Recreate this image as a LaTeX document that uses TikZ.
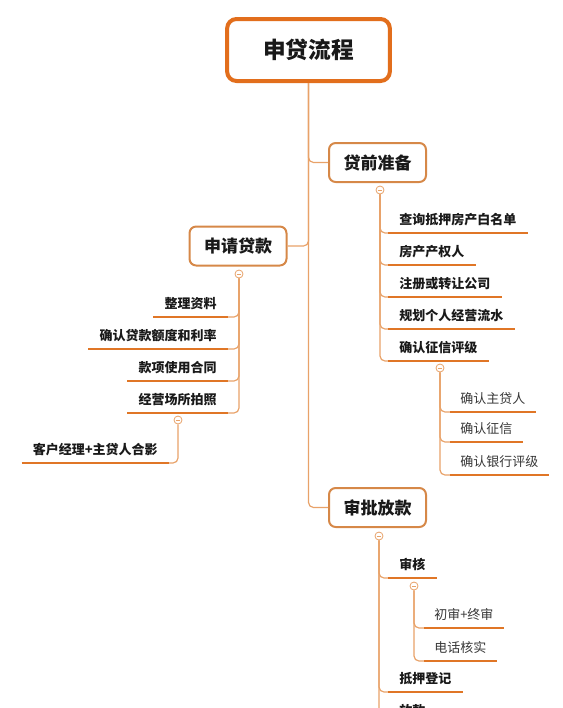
\documentclass[tikz,border=0pt]{standalone}
\usepackage{fontspec}
\setmainfont{Noto Sans CJK SC}
\definecolor{lineC}{RGB}{232,162,105}
\definecolor{ulC}{RGB}{224,118,38}
\definecolor{boxC}{RGB}{214,136,72}
\definecolor{rootC}{RGB}{226,110,28}
\definecolor{txtC}{RGB}{25,25,25}
\definecolor{txtL}{RGB}{55,55,55}
\begin{document}
\begin{tikzpicture}[x=0.75pt,y=-0.75pt,
  conn/.style={draw=lineC, line width=0.9pt, rounded corners=3.75pt},
  uline/.style={draw=ulC, line width=2.2pt},
  rootbox/.style={draw=rootC, line width=3pt, rounded corners=7pt, fill=white,
    minimum width=122pt, minimum height=46.5pt, text=txtC,
    font=\fontsize{17}{20}\selectfont\bfseries},
  topic/.style={draw=boxC, line width=1.5pt, rounded corners=5pt, fill=white,
    minimum width=72.75pt, minimum height=29.25pt, text=txtC,
    font=\fontsize{12.75}{15}\selectfont\bfseries},
  item/.style={inner xsep=8.25pt, inner ysep=6pt, text depth=0pt, text=txtC,
    font=\fontsize{9.75}{12}\selectfont\bfseries},
  subitem/.style={inner xsep=7.5pt, inner ysep=6pt, text depth=0pt, text=txtL,
    font=\fontsize{9.75}{12}\selectfont},
  coll/.style={circle, draw=lineC, fill=white, line width=0.6pt, minimum size=6pt, inner sep=0pt,
    path picture={\draw[lineC, line width=0.5pt] ([xshift=-1.6pt]path picture bounding box.center) -- ([xshift=1.6pt]path picture bounding box.center);}}
]
\useasboundingbox (0,0) rectangle (563,708);
\clip (0,0) rectangle (563,708);

% root and main topics
\node[rootbox] (root) at (308.5,50) {申贷流程};
\node[topic] (prep) at (377.5,162.5) {贷前准备};
\node[topic] (apply) at (238,246) {申请贷款};
\node[topic] (appr) at (377.5,507.5) {审批放款};

\draw[conn] (root.south) |- (prep.west);
\draw[conn] (root.south) |- (apply.east);
\draw[conn] (root.south) |- (appr.west);

% ---- 贷前准备 ----
\node[coll] (cp) at (380,190) {};
\node[item, anchor=south west] (p1) at (388,233) {查询抵押房产白名单};
\node[item, anchor=south west] (p2) at (388,265) {房产产权人};
\node[item, anchor=south west] (p3) at (388,297) {注册或转让公司};
\node[item, anchor=south west] (p4) at (388,329) {规划个人经营流水};
\node[item, anchor=south west] (p5) at (388,361) {确认征信评级};
\foreach \n in {p1,p2,p3,p4,p5} {
  \draw[conn] (cp.south) |- (\n.south west);
  \draw[uline] (\n.south west) -- (\n.south east);
}
\node[coll] (cq) at (440,368) {};
\node[subitem, anchor=south west] (q1) at (450,412) {确认主贷人};
\node[subitem, anchor=south west] (q2) at (450,442) {确认征信};
\node[subitem, anchor=south west] (q3) at (450,475) {确认银行评级};
\foreach \n in {q1,q2,q3} {
  \draw[conn] (cq.south) |- (\n.south west);
  \draw[uline] (\n.south west) -- (\n.south east);
}

% ---- 申请贷款 ----
\node[coll] (ca) at (239,274) {};
\node[item, anchor=south east] (a1) at (228,317) {整理资料};
\node[item, anchor=south east] (a2) at (228,349) {确认贷款额度和利率};
\node[item, anchor=south east] (a3) at (228,381) {款项使用合同};
\node[item, anchor=south east] (a4) at (228,413) {经营场所拍照};
\foreach \n in {a1,a2,a3,a4} {
  \draw[conn] (ca.south) |- (\n.south east);
  \draw[uline] (\n.south west) -- (\n.south east);
}
\node[coll] (cb) at (178,420) {};
\node[item, anchor=south east] (b1) at (169,463) {客户经理+主贷人合影};
\draw[conn] (cb.south) |- (b1.south east);
\draw[uline] (b1.south west) -- (b1.south east);

% ---- 审批放款 ----
\node[coll] (cd) at (379,536) {};
\node[item, anchor=south west] (d1) at (388,578) {审核};
\node[item, anchor=south west] (d2) at (388,692) {抵押登记};
\node[item, anchor=south west] (d3) at (388,724) {放款};
\foreach \n in {d1,d2,d3} {
  \draw[conn] (cd.south) |- (\n.south west);
  \draw[uline] (\n.south west) -- (\n.south east);
}
\node[coll] (ce) at (414,586) {};
\node[subitem, anchor=south west] (e1) at (424,628) {初审+终审};
\node[subitem, anchor=south west] (e2) at (424,661) {电话核实};
\foreach \n in {e1,e2} {
  \draw[conn] (ce.south) |- (\n.south west);
  \draw[uline] (\n.south west) -- (\n.south east);
}
\end{tikzpicture}
\end{document}
